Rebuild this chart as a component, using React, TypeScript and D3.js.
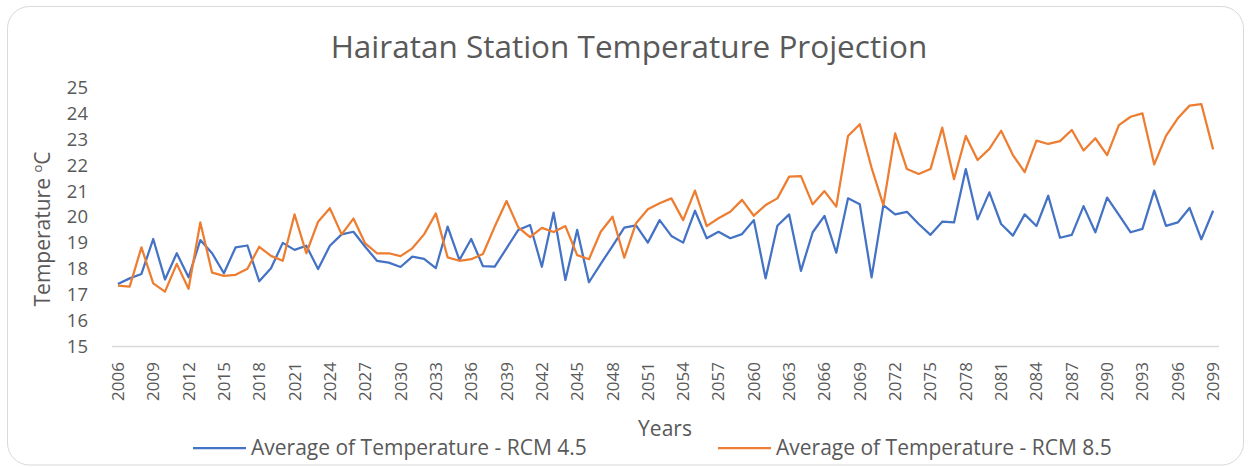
import React, { useEffect, useRef } from 'react';
import * as d3 from 'd3';

// Categories (years) and series values
const years: number[] = d3.range(2006, 2100);

const rcm45: number[] = [
  17.41, 17.63, 17.8, 19.15, 17.59, 18.6, 17.67, 19.11, 18.6, 17.83,
  18.83, 18.9, 17.52, 18.02, 19.0, 18.73, 18.89, 17.99, 18.89, 19.33,
  19.43, 18.85, 18.31, 18.24, 18.07, 18.47, 18.38, 18.03, 19.63, 18.34,
  19.15, 18.1, 18.08, 18.79, 19.5, 19.69, 18.08, 20.17, 17.57, 19.5,
  17.48, 18.19, 18.88, 19.59, 19.68, 19.01, 19.88, 19.27, 19.01, 20.24,
  19.18, 19.43, 19.18, 19.34, 19.88, 17.63, 19.66, 20.1, 17.92, 19.41,
  20.04, 18.62, 20.72, 20.49, 17.67, 20.46, 20.1, 20.2, 19.73, 19.31,
  19.82, 19.79, 21.85, 19.91, 20.95, 19.73, 19.28, 20.1, 19.65, 20.82,
  19.2, 19.31, 20.42, 19.41, 20.75, 20.08, 19.41, 19.54, 21.02, 19.66,
  19.79, 20.35, 19.14, 20.24,
];

const rcm85: number[] = [
  17.35, 17.31, 18.83, 17.44, 17.12, 18.19, 17.23, 19.79, 17.85, 17.73,
  17.77, 18.0, 18.85, 18.5, 18.31, 20.1, 18.6, 19.82, 20.34, 19.33,
  19.94, 18.98, 18.6, 18.6, 18.49, 18.79, 19.33, 20.14, 18.44, 18.31,
  18.37, 18.57, 19.63, 20.62, 19.6, 19.22, 19.58, 19.42, 19.65, 18.53,
  18.37, 19.43, 20.01, 18.43, 19.76, 20.3, 20.53, 20.72, 19.88, 21.02,
  19.65, 19.95, 20.2, 20.66, 20.05, 20.46, 20.72, 21.56, 21.58, 20.49,
  21.0, 20.4, 23.13, 23.58, 21.9, 20.46, 23.23, 21.85, 21.66, 21.85,
  23.45, 21.46, 23.13, 22.2, 22.63, 23.33, 22.39, 21.73, 22.95, 22.82,
  22.93, 23.36, 22.57, 23.04, 22.39, 23.55, 23.87, 24.0, 22.03, 23.13,
  23.81, 24.3, 24.36, 22.61,
];

const yTicks: number[] = [15, 16, 17, 18, 19, 20, 21, 22, 23, 24, 25];

const seriesNames = ['Average of Temperature - RCM 4.5', 'Average of Temperature - RCM 8.5'];
const seriesColors = ['#4472C4', '#ED7D31'];

const App = () => {
  const ref = useRef<SVGSVGElement | null>(null);

  useEffect(() => {
    const W = 1248;
    const H = 467;
    const font = '"Open Sans", sans-serif';
    const textColor = '#595959';

    const svg = d3.select(ref.current);
    svg.selectAll('*').remove();
    svg.attr('width', W).attr('height', H);

    // chart area frame
    svg.append('rect')
      .attr('x', 7.5).attr('y', 6.5)
      .attr('width', 1236).attr('height', 458.5)
      .attr('rx', 22)
      .attr('fill', '#fff')
      .attr('stroke', '#d9d9d9')
      .attr('stroke-width', 1);

    // title
    svg.append('text')
      .attr('x', 629).attr('y', 58)
      .attr('text-anchor', 'middle')
      .attr('font-family', font)
      .attr('font-size', 31.5)
      .attr('fill', textColor)
      .text('Hairatan Station Temperature Projection');

    // scales
    const x = d3.scaleBand<number>().domain(years).range([112, 1219]);
    const cx = (yr: number) => (x(yr) as number) + x.bandwidth() / 2;
    const y = d3.scaleLinear().domain([15, 25]).range([346.5, 87.5]);

    // y tick labels
    svg.append('g')
      .selectAll('text')
      .data(yTicks)
      .enter()
      .append('text')
      .attr('x', 88)
      .attr('y', d => y(d))
      .attr('dy', '0.35em')
      .attr('text-anchor', 'end')
      .attr('font-family', font)
      .attr('font-size', 18.5)
      .attr('fill', textColor)
      .text(d => d);

    // x axis line
    svg.append('line')
      .attr('x1', 112).attr('x2', 1219)
      .attr('y1', y(15)).attr('y2', y(15))
      .attr('stroke', '#d9d9d9')
      .attr('stroke-width', 1.5);

    // x tick labels, every third year
    const xLabels = years.filter((_, i) => i % 3 === 0);
    svg.append('g')
      .selectAll('text')
      .data(xLabels)
      .enter()
      .append('text')
      .attr('transform', d => `translate(${cx(d) + 6},362) rotate(-90)`)
      .attr('text-anchor', 'end')
      .attr('font-family', font)
      .attr('font-size', 17)
      .attr('fill', textColor)
      .text(d => d);

    // axis titles
    const yTitle = svg.append('text')
      .attr('transform', 'translate(50,229) rotate(-90)')
      .attr('text-anchor', 'middle')
      .attr('font-family', font)
      .attr('font-size', 21)
      .attr('fill', textColor);
    yTitle.append('tspan').text('Temperature ');
    yTitle.append('tspan').attr('font-size', 13).attr('dy', -8).text('o');
    yTitle.append('tspan').attr('dy', 8).text('C');

    svg.append('text')
      .attr('x', 665).attr('y', 436)
      .attr('text-anchor', 'middle')
      .attr('font-family', font)
      .attr('font-size', 21)
      .attr('fill', textColor)
      .text('Years');

    // lines
    const line = d3.line<number>()
      .x((_, i) => cx(years[i]))
      .y(d => y(d));

    [rcm45, rcm85].forEach((s, k) => {
      svg.append('path')
        .datum(s)
        .attr('d', line)
        .attr('fill', 'none')
        .attr('stroke', seriesColors[k])
        .attr('stroke-width', 2.25)
        .attr('stroke-linejoin', 'round');
    });

    // legend
    const legendX = [193, 718];
    seriesNames.forEach((name, k) => {
      const g = svg.append('g').attr('transform', `translate(${legendX[k]},448)`);
      g.append('line')
        .attr('x1', 0).attr('x2', 53)
        .attr('y1', 0).attr('y2', 0)
        .attr('stroke', seriesColors[k])
        .attr('stroke-width', 2.25);
      g.append('text')
        .attr('x', 58).attr('y', 0)
        .attr('dy', '0.35em')
        .attr('font-family', font)
        .attr('font-size', 21)
        .attr('fill', textColor)
        .text(name);
    });
  }, []);

  return <svg ref={ref} style={{ position: 'absolute', left: 0, top: 0 }}></svg>;
};

export default App;
